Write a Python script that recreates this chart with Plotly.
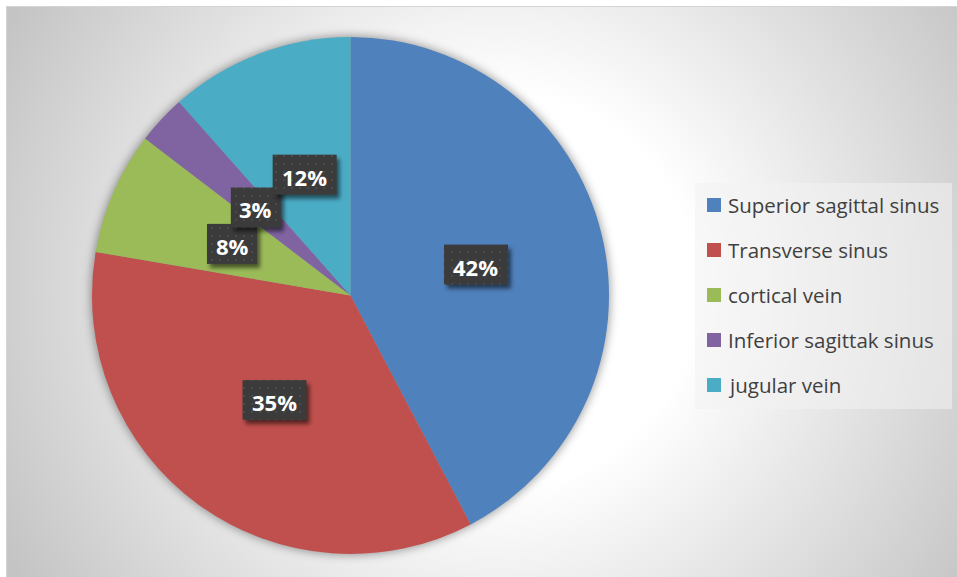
import base64
import math

import plotly.graph_objects as go

# ---- data -----------------------------------------------------------------
categories = [
    "Superior sagittal sinus",
    "Transverse sinus",
    "cortical vein",
    "Inferior sagittak sinus",
    "jugular vein",
]
cases = [55, 46, 10, 4, 15]
colors = ["#4F81BD", "#C0504D", "#9BBB59", "#8064A2", "#4BACC6"]

# ---- geometry (pixels) ----------------------------------------------------
W, H = 957, 577
CX, CY, R = 350.5, 295.5, 258.5          # pie centre / radius
LEG_X0, LEG_X1, LEG_Y0, LEG_Y1 = 695, 952, 183, 409
ROW0, ROW_STEP = 205, 45


def fx(px):
    return px / W


def fy(py):
    return 1 - py / H


# data-label centres: half radius along each slice bisector (clockwise from 12 o'clock)
total = sum(cases)
label_pts = []
cum = 0
for v in cases:
    ang = math.radians((cum + v / 2) / total * 360)
    label_pts.append((CX + 0.5 * R * math.sin(ang), CY - 0.5 * R * math.cos(ang)))
    cum += v
label_txt = [f"{round(v / total * 100)}%" for v in cases]


def svg_uri(body, defs=""):
    svg = (
        f'<svg xmlns="http://www.w3.org/2000/svg" width="{W}" height="{H}" '
        f'viewBox="0 0 {W} {H}"><defs>{defs}</defs>{body}</svg>'
    )
    return "data:image/svg+xml;base64," + base64.b64encode(svg.encode()).decode()


# ---- background: framed radial gradient, pie shadow, legend panel ----------
bg_defs = (
    '<radialGradient id="bg" gradientUnits="userSpaceOnUse" cx="500" cy="290" r="560">'
    '<stop offset="0" stop-color="#ffffff"/>'
    '<stop offset="0.35" stop-color="#ffffff"/>'
    '<stop offset="1" stop-color="#c4c4c4"/>'
    "</radialGradient>"
    '<filter id="soft" x="-20%" y="-20%" width="140%" height="140%">'
    '<feGaussianBlur stdDeviation="5"/></filter>'
)
bg_body = (
    f'<rect x="0" y="0" width="{W}" height="{H}" fill="#ffffff"/>'
    f'<rect x="6.5" y="6.5" width="{W + 10}" height="{H + 10}" fill="url(#bg)" '
    'stroke="#d4d4d4" stroke-width="1"/>'
    f'<circle cx="{CX}" cy="{CY}" r="{R + 1}" fill="#000000" fill-opacity="0.38" '
    'filter="url(#soft)"/>'
    f'<rect x="{LEG_X0}" y="{LEG_Y0}" width="{LEG_X1 - LEG_X0}" height="{LEG_Y1 - LEG_Y0}" '
    'fill="#f2f2f2" fill-opacity="0.55"/>'
)
for i, c in enumerate(colors):
    yc = ROW0 + ROW_STEP * i
    bg_body += f'<rect x="707" y="{yc - 7}" width="14" height="14" fill="{c}"/>'

# ---- overlay: patterned label boxes with drop shadow -----------------------
ov_defs = (
    '<pattern id="dots" width="8" height="8" patternUnits="userSpaceOnUse">'
    '<rect width="8" height="8" fill="#3b3b3b"/>'
    '<rect x="3" y="3" width="2" height="2" fill="#4a4a4a"/></pattern>'
    '<filter id="sh" x="-30%" y="-30%" width="160%" height="160%">'
    '<feGaussianBlur stdDeviation="2"/></filter>'
)
ov_body = ""
for (lx, ly), t in zip(label_pts, label_txt):
    bw = 14 * len(t) + 22
    bh = 40
    x0, y0 = lx - bw / 2, ly - bh / 2
    ov_body += (
        f'<rect x="{x0 + 3}" y="{y0 + 4}" width="{bw}" height="{bh}" fill="#000000" '
        'fill-opacity="0.55" filter="url(#sh)"/>'
        f'<rect x="{x0}" y="{y0}" width="{bw}" height="{bh}" fill="url(#dots)"/>'
    )

fig = go.Figure(
    go.Pie(
        labels=categories,
        values=cases,
        sort=False,
        direction="clockwise",
        rotation=0,
        marker=dict(colors=colors, line=dict(width=0)),
        textinfo="none",
        hoverinfo="label+value+percent",
        showlegend=False,
        domain=dict(x=[fx(CX - R), fx(CX + R)], y=[fy(CY + R), fy(CY - R)]),
    )
)

images = [
    dict(source=svg_uri(bg_body, bg_defs), xref="paper", yref="paper", x=0, y=1,
         sizex=1, sizey=1, sizing="stretch", xanchor="left", yanchor="top", layer="below"),
    dict(source=svg_uri(ov_body, ov_defs), xref="paper", yref="paper", x=0, y=1,
         sizex=1, sizey=1, sizing="stretch", xanchor="left", yanchor="top", layer="above"),
]

annotations = []
for (lx, ly), t in zip(label_pts, label_txt):
    annotations.append(dict(
        x=fx(lx), y=fy(ly + 2), xref="paper", yref="paper", text=t, showarrow=False,
        xanchor="center", yanchor="middle",
        font=dict(family="Open Sans", size=22, color="#ffffff", weight=700),
    ))
for i, name in enumerate(categories):
    annotations.append(dict(
        x=fx(726), y=fy(ROW0 + ROW_STEP * i), xref="paper", yref="paper", text=name,
        showarrow=False, xanchor="left", yanchor="middle",
        font=dict(family="Open Sans", size=20.5, color="#404040"),
    ))

fig.update_layout(
    width=W,
    height=H,
    margin=dict(l=0, r=0, t=0, b=0),
    paper_bgcolor="#ffffff",
    showlegend=False,
    images=images,
    annotations=annotations,
)

fig.write_html("out.html")
